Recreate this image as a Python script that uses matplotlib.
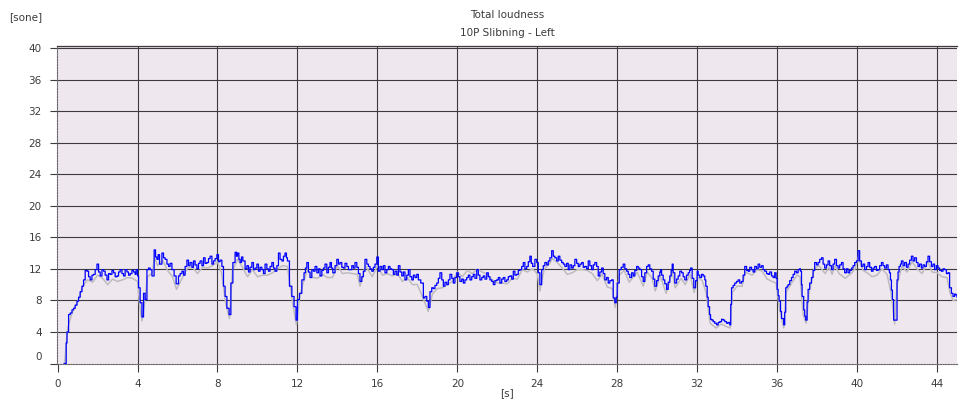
import matplotlib
matplotlib.use("Agg")
import matplotlib.pyplot as plt
import matplotlib.transforms as mtransforms

# ---------------- data ----------------
blue_t = [0.33, 0.43, 0.47, 0.55, 0.63, 0.72, 0.80, 0.88, 0.97, 1.05, 1.13, 1.22, 1.30, 1.38, 1.47, 1.55,
          1.63, 1.72, 1.80, 1.88, 1.97, 2.05, 2.13, 2.22, 2.30, 2.38, 2.47, 2.55, 2.63, 2.72, 2.80, 2.88,
          2.97, 3.05, 3.13, 3.22, 3.30, 3.38, 3.47, 3.55, 3.63, 3.72, 3.80, 3.88, 3.93, 4.00, 4.05, 4.13,
          4.22, 4.30, 4.38, 4.47, 4.55, 4.63, 4.72, 4.83, 4.90, 4.97, 5.03, 5.10, 5.22, 5.30, 5.38, 5.47,
          5.55, 5.63, 5.72, 5.83, 5.93, 6.05, 6.13, 6.22, 6.30, 6.38, 6.47, 6.55, 6.63, 6.72, 6.80, 6.88,
          6.97, 7.05, 7.13, 7.22, 7.30, 7.38, 7.47, 7.55, 7.63, 7.72, 7.80, 7.88, 7.97, 8.05, 8.13, 8.22,
          8.30, 8.38, 8.47, 8.58, 8.67, 8.77, 8.88, 8.95, 9.00, 9.07, 9.13, 9.20, 9.27, 9.38, 9.47, 9.55,
          9.63, 9.72, 9.80, 9.88, 9.97, 10.05, 10.13, 10.22, 10.30, 10.38, 10.47, 10.55, 10.63, 10.72,
          10.80, 10.88, 10.97, 11.05, 11.13, 11.22, 11.30, 11.38, 11.45, 11.50, 11.60, 11.72, 11.83, 11.93,
          12.00, 12.10, 12.22, 12.33, 12.40, 12.47, 12.55, 12.63, 12.72, 12.80, 12.88, 12.97, 13.05, 13.13,
          13.22, 13.30, 13.38, 13.47, 13.55, 13.63, 13.70, 13.77, 13.88, 13.97, 14.05, 14.13, 14.22, 14.30,
          14.38, 14.47, 14.55, 14.63, 14.72, 14.80, 14.88, 14.97, 15.05, 15.13, 15.22, 15.30, 15.38, 15.47,
          15.55, 15.63, 15.72, 15.80, 15.88, 15.97, 16.05, 16.13, 16.22, 16.30, 16.38, 16.47, 16.55, 16.63,
          16.72, 16.80, 16.88, 16.97, 17.05, 17.13, 17.22, 17.30, 17.38, 17.47, 17.55, 17.63, 17.72, 17.80,
          17.88, 17.97, 18.05, 18.17, 18.30, 18.38, 18.47, 18.55, 18.63, 18.72, 18.80, 18.88, 18.97, 19.05,
          19.13, 19.22, 19.30, 19.38, 19.47, 19.55, 19.63, 19.72, 19.80, 19.88, 19.97, 20.05, 20.13, 20.22,
          20.30, 20.38, 20.47, 20.55, 20.63, 20.72, 20.80, 20.88, 20.97, 21.05, 21.13, 21.22, 21.30, 21.38,
          21.47, 21.55, 21.63, 21.72, 21.80, 21.88, 21.97, 22.05, 22.13, 22.22, 22.30, 22.38, 22.47, 22.55,
          22.63, 22.72, 22.80, 22.88, 22.97, 23.05, 23.13, 23.22, 23.30, 23.38, 23.47, 23.55, 23.63, 23.70,
          23.77, 23.88, 23.97, 24.05, 24.13, 24.22, 24.30, 24.38, 24.47, 24.55, 24.63, 24.72, 24.80, 24.88,
          24.97, 25.05, 25.13, 25.22, 25.30, 25.38, 25.47, 25.55, 25.63, 25.72, 25.80, 25.88, 25.97, 26.05,
          26.13, 26.22, 26.30, 26.38, 26.47, 26.55, 26.63, 26.72, 26.80, 26.88, 26.97, 27.05, 27.13, 27.22,
          27.30, 27.38, 27.47, 27.55, 27.63, 27.72, 27.80, 27.88, 27.95, 28.00, 28.10, 28.20, 28.30, 28.38,
          28.47, 28.55, 28.63, 28.72, 28.80, 28.88, 28.97, 29.05, 29.13, 29.22, 29.30, 29.38, 29.47, 29.55,
          29.63, 29.72, 29.80, 29.88, 29.97, 30.05, 30.13, 30.17, 30.22, 30.30, 30.38, 30.47, 30.55, 30.63,
          30.70, 30.75, 30.80, 30.88, 30.97, 31.05, 31.13, 31.22, 31.30, 31.38, 31.47, 31.55, 31.62, 31.67,
          31.75, 31.83, 31.92, 32.00, 32.05, 32.13, 32.22, 32.30, 32.38, 32.43, 32.50, 32.55, 32.62, 32.67,
          32.73, 32.80, 32.88, 32.97, 33.05, 33.13, 33.22, 33.30, 33.38, 33.47, 33.55, 33.63, 33.68, 33.72,
          33.80, 33.88, 33.97, 34.05, 34.13, 34.22, 34.30, 34.38, 34.47, 34.55, 34.63, 34.72, 34.80, 34.88,
          34.97, 35.05, 35.13, 35.22, 35.30, 35.38, 35.47, 35.55, 35.63, 35.72, 35.80, 35.88, 35.95, 36.00,
          36.05, 36.10, 36.17, 36.22, 36.33, 36.38, 36.43, 36.50, 36.55, 36.63, 36.72, 36.80, 36.88, 36.97,
          37.05, 37.12, 37.17, 37.22, 37.25, 37.33, 37.38, 37.43, 37.50, 37.55, 37.63, 37.72, 37.80, 37.88,
          37.97, 38.05, 38.13, 38.22, 38.30, 38.38, 38.47, 38.55, 38.63, 38.72, 38.80, 38.88, 38.97, 39.05,
          39.13, 39.22, 39.30, 39.38, 39.47, 39.55, 39.63, 39.72, 39.80, 39.88, 39.97, 40.05, 40.13, 40.22,
          40.30, 40.38, 40.47, 40.55, 40.63, 40.72, 40.80, 40.88, 40.97, 41.05, 41.13, 41.22, 41.30, 41.38,
          41.47, 41.55, 41.62, 41.67, 41.72, 41.77, 41.83, 41.93, 42.00, 42.05, 42.10, 42.17, 42.22, 42.30,
          42.38, 42.47, 42.55, 42.63, 42.72, 42.80, 42.88, 42.97, 43.05, 43.13, 43.22, 43.30, 43.38, 43.47,
          43.55, 43.63, 43.72, 43.80, 43.88, 43.97, 44.05, 44.13, 44.22, 44.30, 44.38, 44.47, 44.55, 44.63,
          44.72, 44.80, 44.88, 44.93, 45.00]

blue_v = [0.0, 2.6, 4.0, 6.2, 6.4, 6.8, 7.0, 7.4, 7.9, 8.4, 9.1, 9.8, 10.6, 11.8, 11.7, 11.0,
          10.6, 11.2, 11.3, 11.9, 12.6, 11.6, 11.1, 11.9, 11.7, 11.2, 10.6, 11.4, 11.3, 11.8, 11.5, 11.0,
          11.1, 11.6, 11.9, 11.4, 11.1, 11.9, 11.6, 11.2, 11.4, 11.8, 11.6, 11.3, 11.9, 11.1, 9.6, 7.7,
          5.9, 8.9, 8.1, 11.9, 12.1, 11.9, 11.1, 14.4, 13.5, 13.2, 13.8, 12.6, 14.0, 13.4, 13.2, 12.6,
          12.3, 12.7, 11.9, 11.1, 10.1, 11.1, 11.4, 11.7, 11.2, 12.3, 13.1, 12.4, 12.8, 12.2, 13.0, 12.5,
          12.0, 12.7, 13.0, 12.4, 13.4, 12.7, 12.8, 13.3, 13.6, 12.6, 13.0, 13.3, 13.8, 12.9, 13.1, 12.3,
          9.8, 8.5, 7.0, 6.2, 10.2, 12.8, 14.1, 13.6, 14.0, 13.2, 12.8, 13.5, 13.0, 12.0, 12.4, 11.6,
          12.2, 12.8, 11.9, 12.1, 12.6, 11.7, 12.2, 11.9, 11.4, 12.6, 12.0, 11.7, 12.3, 12.8,
          12.1, 11.7, 12.4, 14.0, 13.2, 13.0, 13.6, 14.0, 13.4, 13.0, 9.8, 8.5, 7.2, 5.5,
          8.1, 8.9, 10.6, 11.5, 12.1, 12.8, 11.6, 10.9, 11.9, 11.7, 12.3, 11.5, 12.0, 11.1,
          11.8, 12.1, 12.6, 11.5, 12.2, 12.8, 12.1, 11.5, 12.4, 13.2, 12.6, 12.8, 12.2, 12.1,
          12.7, 12.3, 11.9, 11.9, 12.4, 12.1, 12.8, 12.2, 11.4, 10.4, 11.0, 11.7, 13.2, 12.6,
          12.3, 12.0, 11.7, 12.2, 12.6, 13.5, 11.7, 12.3, 11.9, 12.4, 11.5, 11.9, 12.3, 12.0,
          11.9, 11.3, 11.7, 11.2, 12.4, 11.6, 11.1, 11.6, 10.6, 11.2, 11.9, 11.0, 10.6, 11.2,
          10.9, 11.3, 10.6, 10.2, 8.3, 8.5, 7.9, 7.1, 9.1, 9.6, 9.5, 9.9, 10.2, 10.8,
          11.5, 10.6, 9.8, 10.3, 10.0, 10.6, 11.3, 10.8, 10.2, 10.9, 11.5, 11.0, 10.4, 10.7,
          10.2, 10.6, 10.9, 11.2, 10.6, 11.0, 11.3, 10.8, 11.9, 11.2, 10.6, 10.9, 11.1, 10.7,
          11.5, 11.0, 10.6, 10.4, 10.0, 10.5, 10.6, 10.9, 10.2, 10.7, 10.9, 10.4, 10.6, 11.0,
          11.1, 10.7, 11.7, 11.2, 11.3, 11.8, 11.9, 12.3, 12.8, 12.0, 12.3, 12.9, 13.6, 12.7,
          12.3, 13.2, 12.8, 11.5, 10.0, 11.9, 12.4, 12.8, 12.5, 13.0, 13.4, 14.3, 13.6, 13.4,
          13.0, 13.6, 13.1, 12.8, 12.6, 12.3, 12.7, 11.9, 12.5, 12.1, 12.4, 13.2, 12.7, 12.3,
          12.6, 12.8, 12.2, 12.3, 12.0, 13.0, 12.4, 11.9, 12.5, 12.8, 12.3, 11.1, 11.6, 12.1,
          11.4, 10.6, 10.9, 10.2, 10.5, 10.6, 8.3, 7.7, 8.4, 10.2, 11.9, 12.2, 12.6, 12.0,
          11.7, 11.3, 10.9, 11.5, 11.1, 11.8, 12.3, 12.1, 11.9, 11.0, 10.4, 11.5, 12.3, 12.5,
          12.0, 11.7, 10.7, 9.8, 10.5, 11.1, 11.6, 11.9, 11.2, 10.6, 10.1, 9.4, 10.3, 11.1,
          11.8, 12.6, 11.5, 10.2, 10.7, 11.1, 11.7, 11.5, 11.0, 10.6, 11.2, 11.5, 11.8, 12.1,
          10.8, 9.6, 10.5, 11.7, 11.2, 10.9, 11.3, 11.1, 10.6, 9.8, 8.4, 7.2, 6.2, 5.6,
          5.5, 5.3, 5.1, 4.9, 5.2, 5.3, 5.6, 5.5, 5.3, 5.1, 5.2, 4.9, 7.5, 9.6,
          9.9, 10.2, 10.4, 10.6, 10.2, 10.4, 11.2, 12.3, 11.8, 11.7, 12.2, 11.9, 11.6, 12.3,
          12.0, 12.6, 12.2, 12.4, 11.9, 11.7, 11.4, 11.3, 11.6, 11.1, 10.9, 11.5, 10.8, 9.4,
          8.6, 7.9, 6.6, 5.7, 4.9, 6.5, 9.6, 9.8, 10.0, 10.5, 10.9, 11.3, 11.7, 11.5,
          11.9, 12.0, 11.7, 10.0, 8.5, 6.8, 6.0, 5.5, 7.8, 9.4, 10.2, 10.9, 11.8, 12.8,
          12.5, 12.8, 13.2, 13.4, 12.6, 12.1, 12.5, 13.0, 12.4, 11.9, 12.6, 13.2, 12.4, 12.1,
          12.5, 12.8, 12.0, 11.5, 12.0, 11.5, 11.8, 12.1, 12.4, 12.8, 13.0, 14.3, 13.0, 12.3,
          12.6, 11.9, 12.3, 12.8, 12.2, 11.7, 12.1, 12.3, 11.8, 11.9, 12.4, 12.8, 12.4, 12.1,
          12.5, 11.9, 11.5, 10.6, 9.3, 8.1, 5.5, 5.5, 10.6, 11.6, 12.3, 12.6, 13.0, 12.4,
          12.8, 12.2, 12.6, 13.1, 13.6, 13.0, 13.4, 12.8, 12.3, 12.6, 12.1, 12.5, 12.3, 12.9,
          13.6, 12.9, 12.3, 12.6, 11.9, 12.4, 12.1, 11.8, 11.7, 12.0, 11.9, 11.4, 11.5, 9.6,
          8.9, 8.5, 8.8, 8.7, 8.4]

gray_t = [0.35, 0.5, 0.75, 1.0, 1.25, 1.5, 1.75, 2.0, 2.25, 2.5, 2.75, 3.0, 3.25, 3.5, 3.75, 4.0,
          4.1, 4.22, 4.35, 4.5, 4.75, 4.85, 5.0, 5.25, 5.5, 5.75, 5.95, 6.25, 6.5, 6.75, 7.0, 7.25,
          7.5, 7.75, 8.0, 8.2, 8.4, 8.6, 8.75, 9.0, 9.25, 9.5, 9.75, 10.0, 10.25, 10.5, 10.75, 11.0,
          11.25, 11.5, 11.75, 11.95, 12.1, 12.25, 12.5, 12.75, 13.0, 13.25, 13.5, 13.75, 14.0, 14.25,
          14.5, 14.75, 15.0, 15.13, 15.4, 15.75, 16.0, 16.25, 16.5, 16.75, 17.0, 17.25, 17.5, 17.75,
          18.0, 18.25, 18.55, 18.75, 19.0, 19.25, 19.5, 19.75, 20.0, 20.25, 20.5, 20.75, 21.0, 21.25,
          21.5, 21.75, 22.0, 22.25, 22.5, 22.75, 23.0, 23.25, 23.5, 23.75, 24.0, 24.13, 24.35, 24.6,
          24.75, 25.0, 25.25, 25.5, 25.75, 26.0, 26.25, 26.5, 26.75, 27.0, 27.25, 27.5, 27.75, 27.9,
          28.1, 28.35, 28.6, 28.85, 29.0, 29.3, 29.5, 29.75, 29.9, 30.15, 30.45, 30.75, 30.9, 31.2,
          31.4, 31.65, 31.85, 32.0, 32.25, 32.45, 32.65, 32.95, 33.2, 33.45, 33.65, 33.75, 34.0, 34.25,
          34.4, 34.75, 35.0, 35.25, 35.5, 35.75, 35.95, 36.1, 36.33, 36.45, 36.75, 37.0, 37.15, 37.3,
          37.45, 37.6, 37.85, 38.1, 38.4, 38.6, 38.75, 38.9, 39.1, 39.4, 39.7, 39.9, 40.05, 40.3,
          40.5, 40.75, 41.0, 41.25, 41.5, 41.7, 41.88, 42.0, 42.25, 42.5, 42.75, 43.0, 43.25, 43.55,
          43.75, 44.0, 44.25, 44.5, 44.65, 44.8, 45.0]

gray_v = [0.0, 4.5, 6.6, 7.8, 9.8, 10.6, 10.3, 11.2, 10.8, 10.0, 10.7, 10.4, 10.6, 10.9, 10.8, 10.4,
          7.5, 5.4, 7.6, 11.0, 11.5, 13.5, 12.4, 13.1, 11.8, 11.0, 9.4, 10.9, 12.1, 12.2, 11.4, 12.2,
          12.1, 12.4, 12.9, 11.5, 7.8, 5.7, 11.8, 13.2, 12.2, 11.0, 11.9, 11.0, 11.2, 11.2, 11.5, 12.0,
          12.4, 12.3, 7.8, 4.9, 8.2, 9.9, 11.9, 10.9, 10.8, 11.3, 10.9, 10.9, 12.4, 11.4,
          11.5, 11.4, 11.3, 9.8, 12.4, 11.0, 12.4, 11.2, 11.4, 11.1, 11.4, 10.4, 10.9, 10.0,
          10.0, 8.5, 6.6, 8.8, 9.5, 9.6, 10.0, 10.4, 11.6, 11.0, 11.8, 11.4, 12.0, 11.6,
          11.3, 10.6, 10.2, 10.2, 10.1, 10.8, 10.7, 11.9, 11.6, 12.0, 11.4, 9.2, 12.0, 12.6,
          13.3, 12.8, 12.1, 11.3, 11.5, 11.9, 11.9, 11.8, 11.4, 10.5, 11.3, 9.7, 9.5, 7.1,
          11.2, 11.8, 10.3, 11.1, 11.6, 9.8, 11.6, 10.8, 9.2, 11.1, 8.9, 11.7, 9.6, 10.8,
          10.0, 11.3, 9.0, 11.0, 10.5, 9.0, 5.1, 4.5, 5.0, 4.7, 4.5, 9.0, 9.8, 9.8,
          11.6, 11.2, 11.9, 11.7, 10.7, 10.4, 10.2, 7.3, 4.5, 9.0, 10.3, 11.2, 11.0, 6.2,
          5.1, 9.0, 12.0, 12.4, 11.4, 12.2, 11.3, 12.4, 11.4, 10.8, 11.4, 12.0, 13.5, 11.8,
          11.5, 11.0, 11.2, 12.0, 11.3, 9.0, 5.0, 10.0, 12.3, 11.6, 12.9, 12.0, 11.4, 12.9,
          11.6, 11.5, 11.0, 10.9, 9.0, 8.0, 8.1]

x_ticks = [0, 4, 8, 12, 16, 20, 24, 28, 32, 36, 40, 44]
y_ticks = [0, 4, 8, 12, 16, 20, 24, 28, 32, 36, 40]

title_line1 = "Total loudness"
title_line2 = "10P Slibning - Left"
y_unit = "[sone]"
x_unit = "[s]"

# ---------------- figure ----------------
W, H = 963, 399
fig = plt.figure(figsize=(W / 100, H / 100), dpi=100)
fig.patch.set_facecolor("white")

left, right, top, bottom = 57, 957, 46, 363.5
ax = fig.add_axes([left / W, 1 - bottom / H, (right - left) / W, (bottom - top) / H])
ax.set_facecolor("#EEE8EE")

txt_col = "#3C3C3C"
grid_col = "#3E3A3E"

ax.set_xlim(-0.03, 45.0)
ax.set_ylim(0, 40.25)

for xv in x_ticks:
    if xv > 0:
        ax.axvline(xv, color=grid_col, lw=0.8, zorder=1)
for yv in y_ticks:
    if yv > 0:
        ax.axhline(yv, color=grid_col, lw=0.8, zorder=1)

ax.plot(gray_t, gray_v, color="#BDBBBD", lw=1.1, zorder=2)
ax.plot(blue_t, blue_v, color="#0000FF", lw=0.9, drawstyle="steps-post", zorder=3)

ax.set_xticks(x_ticks)
ax.set_yticks(y_ticks)
ax.set_xticklabels([str(v) for v in x_ticks])
ax.set_yticklabels([str(v) for v in y_ticks])
ax.tick_params(axis="both", direction="out", colors=grid_col, labelcolor=txt_col,
               labelsize=7.5, width=0.8)
ax.tick_params(axis="y", length=5, pad=6)
ax.tick_params(axis="x", length=6, pad=5)

# shift the "0" y label upward like in the original
for lbl, val in zip(ax.get_yticklabels(), y_ticks):
    if val == 0:
        off = mtransforms.ScaledTranslation(0, 7.5 / 100, fig.dpi_scale_trans)
        lbl.set_transform(lbl.get_transform() + off)

for side in ["left", "bottom"]:
    ax.spines[side].set_color("#6A666A")
    ax.spines[side].set_linewidth(0.8)
    ax.spines[side].set_linestyle((0, (1.2, 1.2)))
ax.spines["top"].set_color(grid_col)
ax.spines["top"].set_linewidth(0.9)
ax.spines["right"].set_visible(False)

fig.text(507 / W, 1 - 15 / H, title_line1, ha="center", va="center", fontsize=7.5, color=txt_col)
fig.text(507 / W, 1 - 33 / H, title_line2, ha="center", va="center", fontsize=7.5, color=txt_col)
fig.text(26 / W, 1 - 17 / H, y_unit, ha="center", va="center", fontsize=7.5, color=txt_col)
fig.text(507 / W, 1 - 393 / H, x_unit, ha="center", va="center", fontsize=7.5, color=txt_col)

fig.savefig("out.png", dpi=100, facecolor="white")
